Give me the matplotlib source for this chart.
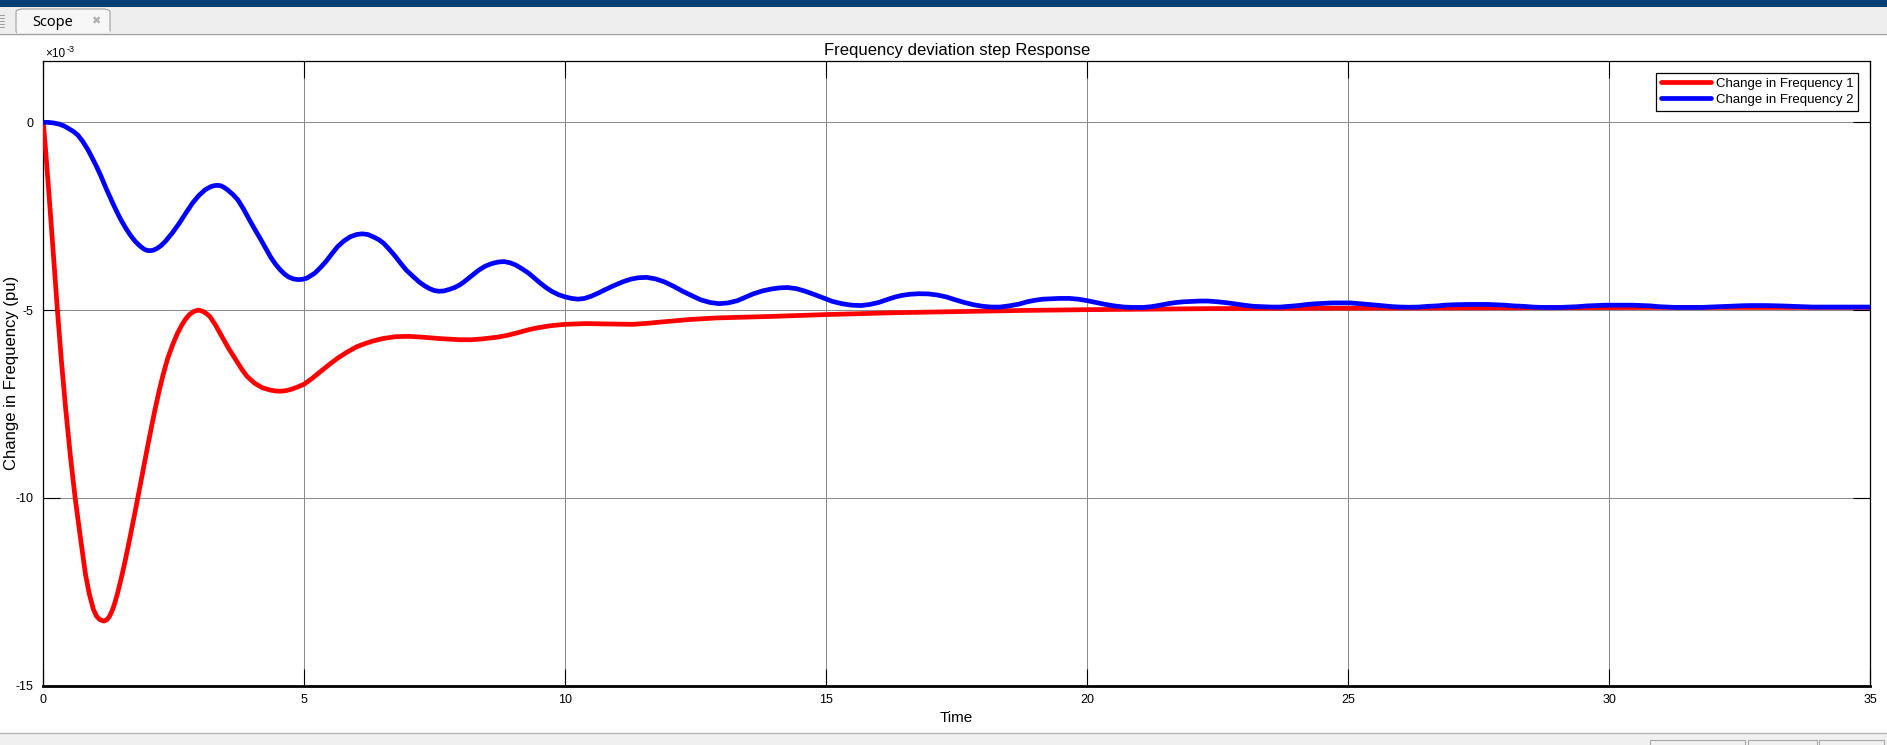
import matplotlib
matplotlib.use("Agg")
import matplotlib.pyplot as plt
from matplotlib.patches import Rectangle, FancyBboxPatch
from matplotlib.lines import Line2D

# ---------------- data: (time, value in units of 1e-3 pu) ----------------
f1_points = [
    (0, 0), (0.05, -0.85), (0.1, -1.75), (0.15, -2.7), (0.2, -3.65), (0.27, -5.0),
    (0.35, -6.4), (0.43, -7.65), (0.52, -8.9), (0.61, -10.0), (0.71, -11.05),
    (0.81, -12.05), (0.88, -12.55), (0.96, -12.97), (1.02, -13.15), (1.08, -13.24),
    (1.16, -13.28), (1.22, -13.24), (1.27, -13.15), (1.32, -13.0), (1.37, -12.8),
    (1.43, -12.5), (1.5, -12.1), (1.56, -11.73), (1.61, -11.4), (1.67, -10.99),
    (1.72, -10.64), (1.77, -10.29), (1.82, -9.93), (1.87, -9.57), (1.92, -9.2),
    (1.97, -8.84), (2.01, -8.55), (2.08, -8.06), (2.14, -7.65), (2.22, -7.15),
    (2.29, -6.75), (2.38, -6.3), (2.49, -5.88), (2.57, -5.62), (2.65, -5.41),
    (2.72, -5.25), (2.8, -5.12), (2.88, -5.04), (2.97, -5.0), (3.05, -5.03),
    (3.12, -5.09), (3.19, -5.17), (3.3, -5.4), (3.42, -5.7), (3.55, -6.02),
    (3.7, -6.35), (3.8, -6.57), (3.9, -6.76), (4.05, -6.95), (4.2, -7.07),
    (4.35, -7.13), (4.45, -7.155), (4.55, -7.16), (4.65, -7.145), (4.75, -7.11),
    (4.87, -7.05), (5.0, -6.97), (5.15, -6.82), (5.3, -6.65), (5.47, -6.46),
    (5.64, -6.28), (5.82, -6.12), (6.0, -5.98), (6.15, -5.9), (6.3, -5.83),
    (6.5, -5.76), (6.74, -5.71), (7.0, -5.7), (7.25, -5.72), (7.6, -5.76),
    (7.98, -5.79), (8.2, -5.79), (8.4, -5.77), (8.71, -5.72), (8.9, -5.67),
    (9.1, -5.6), (9.28, -5.53), (9.44, -5.48), (9.7, -5.42), (10.0, -5.38),
    (10.4, -5.36), (10.8, -5.37), (11.3, -5.38), (11.6, -5.35), (11.9, -5.31),
    (12.4, -5.25), (12.9, -5.21), (13.94, -5.17), (15.0, -5.12), (16.35, -5.07),
    (17.56, -5.04), (18.77, -5.01), (20.0, -4.99), (22.5, -4.96), (25.0, -4.95),
    (28.0, -4.94), (31.0, -4.93), (35.0, -4.93),
]

f2_points = [
    (0, 0), (0.1, -0.005), (0.2, -0.02), (0.3, -0.05), (0.4, -0.1), (0.5, -0.18),
    (0.58, -0.25), (0.66, -0.34), (0.75, -0.5), (0.85, -0.72), (0.93, -0.93),
    (1.02, -1.18), (1.1, -1.42), (1.2, -1.75), (1.3, -2.06), (1.39, -2.33),
    (1.48, -2.58), (1.58, -2.82), (1.67, -3.01), (1.76, -3.17), (1.84, -3.28),
    (1.92, -3.37), (1.98, -3.41), (2.04, -3.42), (2.1, -3.41), (2.18, -3.36),
    (2.26, -3.28), (2.34, -3.17), (2.47, -2.95), (2.6, -2.7), (2.73, -2.42),
    (2.86, -2.15), (2.98, -1.95), (3.1, -1.8), (3.2, -1.72), (3.27, -1.69),
    (3.33, -1.68), (3.4, -1.69), (3.47, -1.74), (3.53, -1.8), (3.63, -1.92),
    (3.73, -2.07), (3.84, -2.32), (3.95, -2.6), (4.06, -2.87), (4.17, -3.13),
    (4.27, -3.38), (4.36, -3.6), (4.45, -3.78), (4.54, -3.93), (4.62, -4.04),
    (4.7, -4.12), (4.79, -4.17), (4.88, -4.19), (4.97, -4.18), (5.05, -4.15),
    (5.12, -4.09), (5.2, -4.02), (5.31, -3.87), (5.42, -3.7), (5.53, -3.5),
    (5.64, -3.31), (5.76, -3.16), (5.88, -3.05), (6.0, -2.99), (6.11, -2.97),
    (6.22, -2.99), (6.32, -3.05), (6.42, -3.12), (6.52, -3.22), (6.64, -3.4),
    (6.75, -3.58), (6.85, -3.76), (6.95, -3.93), (7.08, -4.1), (7.2, -4.25),
    (7.3, -4.35), (7.4, -4.43), (7.49, -4.48), (7.58, -4.5), (7.68, -4.49),
    (7.78, -4.45), (7.88, -4.4), (7.98, -4.33), (8.07, -4.24), (8.15, -4.15),
    (8.25, -4.04), (8.35, -3.93), (8.47, -3.83), (8.6, -3.76), (8.72, -3.72),
    (8.83, -3.71), (8.94, -3.74), (9.05, -3.8), (9.17, -3.9), (9.3, -4.02),
    (9.41, -4.15), (9.52, -4.28), (9.63, -4.4), (9.74, -4.5), (9.87, -4.59),
    (10.0, -4.65), (10.12, -4.69), (10.25, -4.71), (10.37, -4.69), (10.5, -4.63),
    (10.63, -4.55), (10.76, -4.46), (10.93, -4.35), (11.1, -4.25), (11.25, -4.18),
    (11.4, -4.14), (11.56, -4.13), (11.73, -4.17), (11.9, -4.25), (12.08, -4.37),
    (12.25, -4.5), (12.43, -4.62), (12.6, -4.73), (12.78, -4.8), (12.95, -4.83),
    (13.12, -4.81), (13.3, -4.75), (13.45, -4.66), (13.6, -4.57), (13.78, -4.49),
    (13.95, -4.44), (14.1, -4.41), (14.26, -4.40), (14.43, -4.43), (14.6, -4.5),
    (14.78, -4.59), (14.95, -4.68), (15.12, -4.77), (15.3, -4.83), (15.48, -4.87),
    (15.67, -4.88), (15.84, -4.85), (16.0, -4.8), (16.15, -4.73), (16.3, -4.66),
    (16.45, -4.61), (16.6, -4.58), (16.78, -4.565), (16.96, -4.57), (17.13, -4.6),
    (17.3, -4.65), (17.48, -4.73), (17.65, -4.8), (17.83, -4.86), (18.0, -4.9),
    (18.16, -4.92), (18.33, -4.92), (18.5, -4.89), (18.7, -4.84), (18.85, -4.78),
    (19.0, -4.74), (19.15, -4.71), (19.3, -4.7), (19.48, -4.69), (19.66, -4.69),
    (19.83, -4.71), (20.0, -4.75), (20.18, -4.8), (20.35, -4.85), (20.52, -4.89),
    (20.7, -4.92), (20.88, -4.93), (21.07, -4.93), (21.23, -4.91), (21.4, -4.87),
    (21.55, -4.83), (21.7, -4.8), (21.85, -4.78), (22.0, -4.77), (22.16, -4.76),
    (22.32, -4.76), (22.5, -4.78), (22.7, -4.81), (22.85, -4.84), (23.0, -4.87),
    (23.18, -4.9), (23.35, -4.91), (23.52, -4.92), (23.7, -4.92), (23.88, -4.9),
    (24.05, -4.88), (24.22, -4.85), (24.4, -4.83), (24.55, -4.82), (24.7, -4.81),
    (24.88, -4.81), (25.05, -4.81), (25.22, -4.83), (25.4, -4.85), (25.55, -4.87),
    (25.7, -4.89), (25.85, -4.91), (26.0, -4.92), (26.18, -4.925), (26.36, -4.92),
    (26.53, -4.9), (26.7, -4.89), (26.85, -4.87), (27.0, -4.86), (27.15, -4.855),
    (27.3, -4.85), (27.48, -4.85), (27.67, -4.85), (27.83, -4.86), (28.0, -4.87),
    (28.18, -4.89), (28.35, -4.9), (28.53, -4.92), (28.7, -4.93), (28.88, -4.93),
    (29.06, -4.93), (29.23, -4.92), (29.4, -4.91), (29.58, -4.89), (29.75, -4.88),
    (29.93, -4.87), (30.1, -4.87), (30.28, -4.87), (30.45, -4.87), (30.63, -4.88),
    (30.8, -4.89), (30.95, -4.91), (31.1, -4.92), (31.28, -4.93), (31.45, -4.93),
    (31.6, -4.93), (31.76, -4.93), (31.93, -4.92), (32.1, -4.91), (32.25, -4.9),
    (32.4, -4.89), (32.55, -4.885), (32.7, -4.88), (32.85, -4.88), (32.99, -4.88),
    (33.15, -4.885), (33.3, -4.89), (33.5, -4.9), (33.7, -4.91), (33.9, -4.92),
    (34.1, -4.92), (34.3, -4.92), (34.5, -4.92), (34.75, -4.92), (35.0, -4.92),
]

t_f1 = [p[0] for p in f1_points]
f1 = [p[1] for p in f1_points]
t_f2 = [p[0] for p in f2_points]
f2 = [p[1] for p in f2_points]

labels = ["Change in Frequency 1", "Change in Frequency 2"]
x_ticks = [0, 5, 10, 15, 20, 25, 30, 35]
y_ticks = [-15, -10, -5, 0]
title = "Frequency deviation step Response"
xlabel = "Time"
ylabel = "Change in Frequency (pu)"

# ---------------- figure ----------------
W, H = 1887, 745
plt.rcParams['font.family'] = ['Liberation Sans', 'DejaVu Sans']
fig = plt.figure(figsize=(W / 100, H / 100), dpi=100)
fig.patch.set_facecolor('white')


def rect(x, y, w, h, **kw):
    r = Rectangle((x / W, 1 - (y + h) / H), w / W, h / H,
                  transform=fig.transFigure, **kw)
    fig.add_artist(r)
    return r


def hline(x0, x1, y, **kw):
    fig.add_artist(Line2D([x0 / W, x1 / W], [1 - y / H, 1 - y / H],
                          transform=fig.transFigure, **kw))


# window chrome
rect(0, 0, W, 7, facecolor='#053f73', edgecolor='none')
rect(0, 7, W, 26, facecolor='#eeeeee', edgecolor='none')
hline(0, W, 33.5, color='#a0a0a0', lw=1)
tab = FancyBboxPatch((16 / W, 1 - 34 / H), 94 / W, 25 / H,
                     boxstyle='round,pad=0,rounding_size=0.004',
                     transform=fig.transFigure, facecolor='#f7f7f7',
                     edgecolor='#a0a0a0', lw=0.8)
fig.add_artist(tab)
rect(16.5, 31, 93, 4, facecolor='#f7f7f7', edgecolor='none')
fig.text(32 / W, 1 - 22 / H, "Scope", fontsize=10.5, family=['Noto Sans', 'DejaVu Sans'],
         va='center', ha='left', color='black')
fig.text(96 / W, 1 - 21 / H, "\u2716", fontsize=8, family=['DejaVu Sans'],
         va='center', ha='center', color='#b0b0b0')
for yy in (15, 18, 21, 24, 27):
    hline(0, 4, yy, color='#909090', lw=0.6)
# bottom status bar
rect(0, 733, W, 12, facecolor='#f0f0f0', edgecolor='none')
hline(0, W, 733, color='#b4b4b4', lw=1)
for x0, x1 in ((1650, 1745), (1748, 1817), (1819, 1884)):
    rect(x0, 740, x1 - x0, 8, facecolor='#f0f0f0', edgecolor='#a8a8a8', lw=0.8)

# axes
ax_l, ax_r, ax_t, ax_b = 43.3, 1870, 61, 685.7
ax = fig.add_axes([ax_l / W, 1 - ax_b / H, (ax_r - ax_l) / W, (ax_b - ax_t) / H])
ax.set_facecolor('white')

ax.plot(t_f1, f1, color='#ff0000', lw=3.4, solid_joinstyle='round',
        solid_capstyle='round', label=labels[0], zorder=3)
ax.plot(t_f2, f2, color='#0000ff', lw=3.4, solid_joinstyle='round',
        solid_capstyle='round', label=labels[1], zorder=4)

ax.set_xlim(0, 35)
ax.set_ylim(-15, 1.63)
ax.set_xticks(x_ticks)
ax.set_xticklabels([str(v) for v in x_ticks])
ax.set_yticks(y_ticks)
ax.set_yticklabels([str(v) for v in y_ticks])
ax.grid(True, color='#8c8c8c', lw=0.75)
ax.set_axisbelow(True)
ax.tick_params(direction='in', length=12, width=0.8, top=True, right=True,
               labelsize=9, colors='black')
ax.tick_params(axis='y', pad=7)
ax.tick_params(axis='x', pad=6)
for s in ax.spines.values():
    s.set_color('black')
    s.set_linewidth(0.9)
ax.spines['bottom'].set_linewidth(2)

ax.set_title(title, fontsize=12, pad=4.5)
ax.set_xlabel(xlabel, fontsize=11)
ax.xaxis.set_label_coords(0.5, -0.040)
ax.set_ylabel(ylabel, fontsize=12)
ax.yaxis.set_label_coords(-0.0135, 0.5)

leg = ax.legend(loc='upper right', bbox_to_anchor=(0.9934, 0.9808),
                borderaxespad=0, fontsize=9.5, frameon=True, fancybox=False,
                framealpha=1, edgecolor='black', handlelength=3.8,
                handletextpad=0.35, labelspacing=0.3, borderpad=0.35)
leg.get_frame().set_linewidth(0.9)

# exponent label
fig.text(45 / W, 1 - 57 / H, "\u00d710", fontsize=8.5, va='baseline', ha='left')
fig.text(67 / W, 1 - 52 / H, "-3", fontsize=6.5, va='baseline', ha='left')

fig.savefig('out.png', dpi=100, facecolor='white')
